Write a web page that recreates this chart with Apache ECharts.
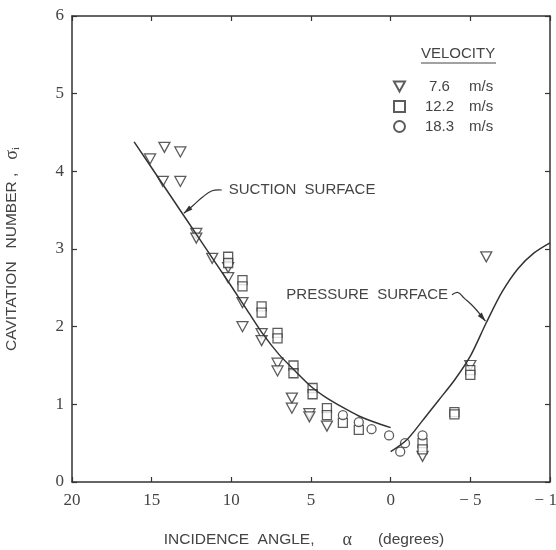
<!DOCTYPE html>
<html lang="en">
<head>
<meta charset="UTF-8" />
<title>Cavitation number vs incidence angle</title>
<style>
  * { box-sizing: border-box; margin: 0; padding: 0; }
  body { background: #fff; }
  .container { width: 556px; height: 550px; }
</style>
</head>
<body>
<div id="chart" class="container"></div>
<script src="https://cdn.jsdelivr.net/npm/echarts@6/dist/echarts.min.js"></script>
<script>
// ticks
var xTicks = [20, 15, 10, 5, 0, -5, -10];
var yTicks = [0, 1, 2, 3, 4, 5, 6];

// velocities (legend)
var velocities = ['7.6', '12.2', '18.3'];

// measured points [incidence angle, sigma_i]
var tri76 = [
  [15.1, 4.16], [14.2, 4.31], [13.2, 4.25], [14.3, 3.87], [13.2, 3.87],
  [12.2, 3.2], [12.2, 3.14], [11.2, 2.88], [10.2, 2.76], [10.2, 2.63],
  [9.3, 2.31], [9.3, 2.0], [8.1, 1.91], [8.1, 1.82], [7.1, 1.53], [7.1, 1.43],
  [6.2, 1.08], [6.2, 0.95], [5.1, 0.88], [5.1, 0.84], [4.0, 0.72],
  [-2.0, 0.33], [-5.0, 1.5], [-6.0, 2.9]
];
var sq122 = [
  [10.2, 2.9], [10.2, 2.82], [9.3, 2.6], [9.3, 2.52], [8.1, 2.26], [8.1, 2.18],
  [7.1, 1.92], [7.1, 1.85], [6.1, 1.5], [6.1, 1.4], [4.9, 1.21], [4.9, 1.13],
  [4.0, 0.95], [4.0, 0.86], [3.0, 0.76], [2.0, 0.67],
  [-2.0, 0.5], [-2.0, 0.42], [-4.0, 0.9], [-4.0, 0.87], [-5.0, 1.44], [-5.0, 1.38]
];
var circ183 = [
  [3.0, 0.86], [2.0, 0.77], [1.2, 0.68], [0.1, 0.6], [-0.6, 0.39], [-0.9, 0.5], [-2.0, 0.6]
];

// drawn curves
var suctionCurve = [
  [16.1, 4.38], [14, 3.74], [12, 3.13], [10, 2.52], [9, 2.21], [8, 1.9], [7, 1.64],
  [6, 1.43], [5, 1.23], [4, 1.08], [3, 0.96], [2, 0.85], [1, 0.77], [0, 0.7]
];
var pressureCurve = [
  [0, 0.39], [-1, 0.54], [-2, 0.79], [-3, 1.05], [-4, 1.31], [-5, 1.62],
  [-6, 2.05], [-7, 2.45], [-8, 2.75], [-9, 2.95], [-10, 3.08]
];

// annotation leaders (data coords), last point is the arrow tip
var suctionLeader = [[10.6, 3.76], [11.2, 3.75], [11.8, 3.67], [12.4, 3.56], [12.98, 3.46]];
var pressureLeader = [[-3.85, 2.41], [-4.22, 2.44], [-4.6, 2.37], [-5.23, 2.25], [-5.95, 2.07]];

var ink = '#333';
var textColor = '#444';
var sans = 'Liberation Sans, Arial, sans-serif';
var serif = 'Liberation Serif, Times New Roman, serif';
var triPath = 'path://M0,0 L10,0 L5,9 Z';

var chart = echarts.init(document.getElementById('chart'));

function tickLabel(v) {
  return v < 0 ? '\u2212 ' + Math.abs(v) : String(v);
}

var axisBase = {
  type: 'value',
  axisLine: { show: true, onZero: false, lineStyle: { color: ink, width: 1.5 } },
  axisTick: { show: true, inside: true, length: 5, lineStyle: { color: ink, width: 1.2 } },
  splitLine: { show: false }
};

var markerStyle = { color: '#fff', borderColor: ink, borderWidth: 1.3 };

chart.setOption({
  animation: false,
  backgroundColor: '#fff',
  grid: { left: 72, right: 6, top: 16, bottom: 68, outerBoundsMode: 'none', containLabel: false },
  legend: {
    orient: 'vertical',
    left: 388,
    top: 73,
    itemWidth: 11,
    itemHeight: 11,
    itemGap: 3,
    data: velocities.map(function (v) { return v + ' m/s'; }),
    formatter: function (name) {
      var p = name.split(' ');
      return '{a|' + p[0] + '}{b|' + p[1] + '}';
    },
    textStyle: {
      color: textColor,
      fontFamily: sans,
      fontSize: 15,
      lineHeight: 17,
      rich: {
        a: { width: 59, align: 'right', fontSize: 15, fontFamily: sans, color: textColor, lineHeight: 17 },
        b: { padding: [0, 0, 0, 0], fontSize: 15, fontFamily: sans, color: textColor, lineHeight: 17 }
      }
    }
  },
  xAxis: [
    Object.assign({}, axisBase, {
      position: 'bottom',
      min: xTicks[xTicks.length - 1],
      max: xTicks[0],
      interval: 5,
      inverse: true,
      axisLabel: {
        color: textColor, fontFamily: serif, fontSize: 17, margin: 10,
        formatter: tickLabel
      },
      name: '{t|INCIDENCE  ANGLE,}{g|α}{t|(degrees)}',
      nameLocation: 'middle',
      nameGap: 49,
      nameTextStyle: {
        padding: [0, 14, 0, 0],
        rich: {
          t: { fontFamily: sans, fontSize: 15.5, color: textColor },
          g: { fontFamily: serif, fontSize: 18, color: textColor, padding: [0, 26, 0, 28] }
        }
      }
    }),
    Object.assign({}, axisBase, {
      position: 'top',
      min: xTicks[xTicks.length - 1],
      max: xTicks[0],
      interval: 5,
      inverse: true,
      axisLabel: { show: false }
    })
  ],
  yAxis: [
    Object.assign({}, axisBase, {
      position: 'left',
      min: yTicks[0],
      max: yTicks[yTicks.length - 1],
      interval: 1,
      axisLabel: { color: textColor, fontFamily: serif, fontSize: 17, margin: 8 },
      name: '{t|CAVITATION   NUMBER ,   }{s|σ}{i|i}',
      nameLocation: 'middle',
      nameRotate: 90,
      nameGap: 50,
      nameTextStyle: {
        rich: {
          t: { fontFamily: sans, fontSize: 15.5, color: textColor, lineHeight: 20 },
          s: { fontFamily: serif, fontSize: 18, color: textColor, lineHeight: 20 },
          i: { fontFamily: serif, fontSize: 11, color: textColor, lineHeight: 20, verticalAlign: 'bottom', padding: [8, 0, 0, 0] }
        }
      }
    }),
    Object.assign({}, axisBase, {
      position: 'right',
      min: yTicks[0],
      max: yTicks[yTicks.length - 1],
      interval: 1,
      axisLabel: { show: false }
    })
  ],
  series: [
    {
      name: 'suction', type: 'line', data: suctionCurve, smooth: 0.2,
      showSymbol: false, silent: true,
      lineStyle: { color: ink, width: 1.5 }
    },
    {
      name: 'pressure', type: 'line', data: pressureCurve, smooth: 0.3,
      showSymbol: false, silent: true,
      lineStyle: { color: ink, width: 1.5 }
    },
    {
      name: velocities[0] + ' m/s', type: 'scatter', data: tri76,
      symbol: triPath, symbolSize: [11, 10], itemStyle: markerStyle
    },
    {
      name: velocities[1] + ' m/s', type: 'scatter', data: sq122,
      symbol: 'rect', symbolSize: 9, itemStyle: markerStyle
    },
    {
      name: velocities[2] + ' m/s', type: 'scatter', data: circ183,
      symbol: 'circle', symbolSize: 9, itemStyle: markerStyle
    }
  ]
});

// annotations placed through the axes
function toPx(p) {
  return chart.convertToPixel({ xAxisIndex: 0, yAxisIndex: 0 }, p);
}

function leader(points) {
  var pts = points.map(toPx);
  var tip = pts[pts.length - 1];
  var prev = pts[pts.length - 2];
  var dx = tip[0] - prev[0], dy = tip[1] - prev[1];
  var len = Math.sqrt(dx * dx + dy * dy);
  var ux = dx / len, uy = dy / len;
  var bx = tip[0] - ux * 9, by = tip[1] - uy * 9;
  return [
    {
      type: 'polyline', silent: true,
      shape: { points: pts, smooth: 0.4 },
      style: { stroke: ink, lineWidth: 1.2, fill: null }
    },
    {
      type: 'polygon', silent: true,
      shape: { points: [tip, [bx - uy * 2.6, by + ux * 2.6], [bx + uy * 2.6, by - ux * 2.6]] },
      style: { fill: ink }
    }
  ];
}

var sStart = toPx(suctionLeader[0]);
var pStart = toPx(pressureLeader[0]);

var graphics = [].concat(
  leader(suctionLeader),
  leader(pressureLeader),
  [
    {
      type: 'text', silent: true,
      x: sStart[0] + 7, y: sStart[1],
      style: { text: 'SUCTION  SURFACE', fill: textColor, font: '15px ' + sans, textVerticalAlign: 'middle' }
    },
    {
      type: 'text', silent: true,
      x: pStart[0] - 4, y: pStart[1],
      style: { text: 'PRESSURE  SURFACE', fill: textColor, font: '15px ' + sans, textAlign: 'right', textVerticalAlign: 'middle' }
    },
    {
      type: 'text', silent: true,
      x: 421, y: 54,
      style: { text: 'VELOCITY', fill: textColor, font: '15px ' + sans, textVerticalAlign: 'middle' }
    },
    {
      type: 'line', silent: true,
      shape: { x1: 421, y1: 63, x2: 496, y2: 63 },
      style: { stroke: textColor, lineWidth: 1 }
    }
  ]
);

chart.setOption({ graphic: graphics });
</script>
</body>
</html>
